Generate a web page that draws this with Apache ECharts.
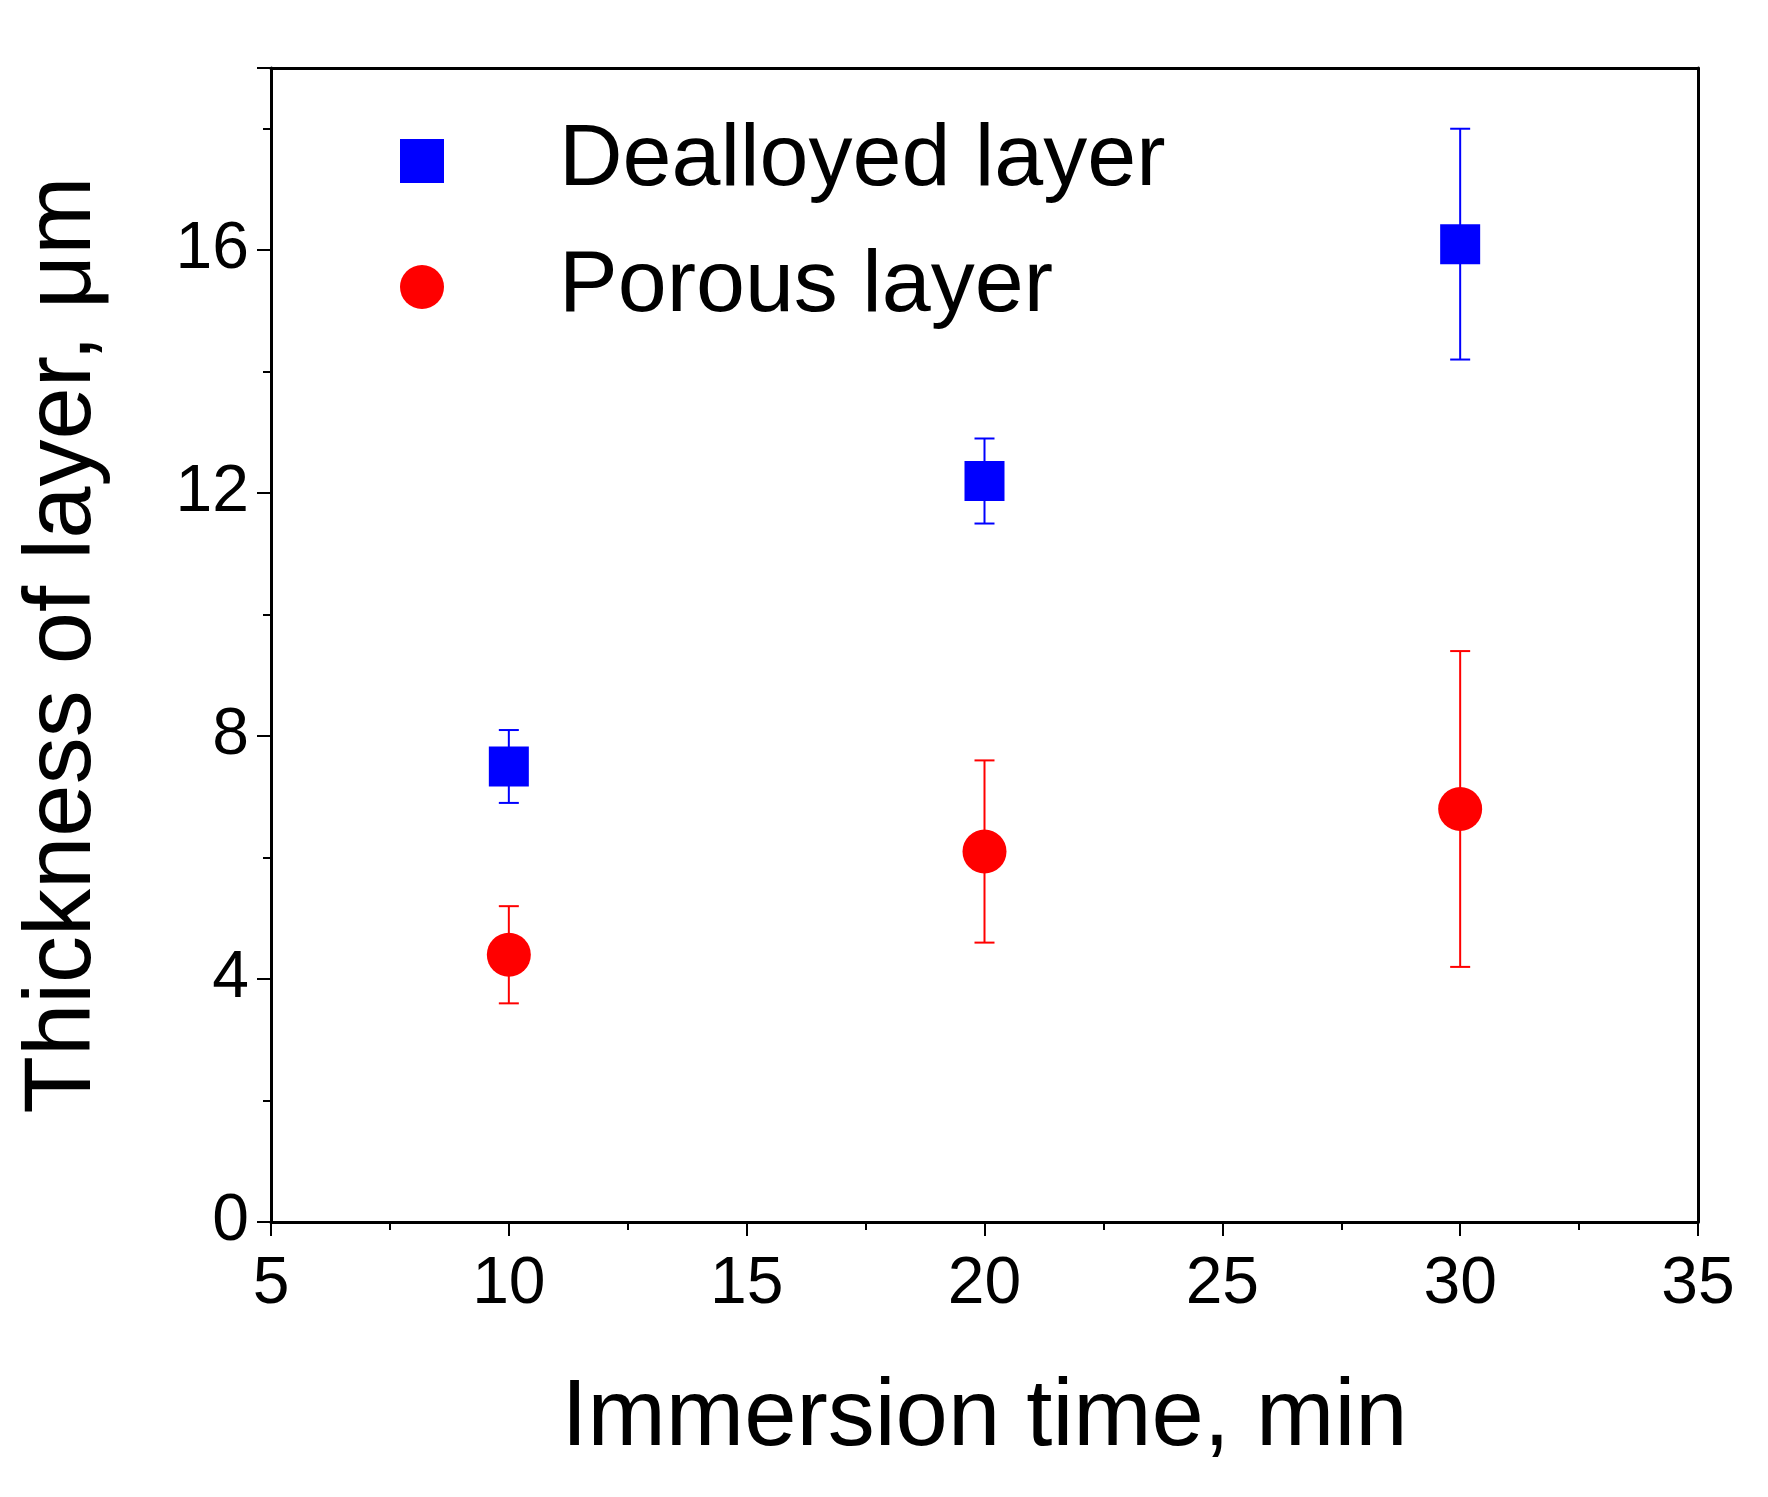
<!DOCTYPE html>
<html><head><meta charset="utf-8">
<script src="https://cdn.jsdelivr.net/npm/echarts@6/dist/echarts.min.js"></script>
<style>html,body{margin:0;background:#fff}#c{width:1768px;height:1497px}</style>
</head><body><div id="c"></div>
<script>
const times = [10, 20, 30]
const dealloyed = [7.5, 12.2, 16.1]
const dealloyedErr = [0.6, 0.7, 1.9]
const porous = [4.4, 6.1, 6.8]
const porousErr = [0.8, 1.5, 2.6]

const font = 'Arial, "Liberation Sans", sans-serif'

const errSeries = (name, vals, errs, color) => ({
  name: name + ' err',
  type: 'custom',
  data: times.map((t, i) => [t, vals[i] - errs[i], vals[i] + errs[i]]),
  renderItem: (params, api) => {
    const lo = api.coord([api.value(0), api.value(1)])
    const hi = api.coord([api.value(0), api.value(2)])
    const w = 10
    const s = { stroke: color, lineWidth: 2 }
    return {
      type: 'group',
      children: [
        { type: 'line', shape: { x1: lo[0], y1: lo[1], x2: hi[0], y2: hi[1] }, style: s },
        { type: 'line', shape: { x1: lo[0] - w, y1: lo[1], x2: lo[0] + w, y2: lo[1] }, style: s },
        { type: 'line', shape: { x1: hi[0] - w, y1: hi[1], x2: hi[0] + w, y2: hi[1] }, style: s },
      ],
    }
  },
  z: 1,
})

const chart = echarts.init(document.getElementById('c'))
const axisLine = { onZero: false, lineStyle: { color: '#000', width: 3 } }
chart.setOption({
  animation: false,
  backgroundColor: '#fff',
  grid: { left: 271, right: 70, top: 68, bottom: 275 },
  legend: {
    orient: 'vertical',
    left: 395,
    top: 112,
    itemGap: 38,
    itemWidth: 44,
    itemHeight: 44,
    data: ['Dealloyed layer', 'Porous layer'],
    textStyle: { fontFamily: font, fontSize: 88, color: '#000', padding: [0, 0, 0, 110] },
  },
  xAxis: [{
    type: 'value', min: 5, max: 35, interval: 5,
    name: 'Immersion time, min', nameLocation: 'middle', nameGap: 150,
    nameTextStyle: { fontFamily: font, fontSize: 94, color: '#000' },
    axisLine,
    axisTick: { inside: false, length: 14, lineStyle: { width: 2, color: '#000' } },
    minorTick: { show: true, splitNumber: 2, length: 8, lineStyle: { width: 2, color: '#000' } },
    axisLabel: { fontFamily: font, fontSize: 66, color: '#000', margin: 30 },
    splitLine: { show: false },
  }, {
    type: 'value', min: 5, max: 35, position: 'top',
    axisLine, axisTick: { show: false }, axisLabel: { show: false }, splitLine: { show: false },
  }],
  yAxis: [{
    type: 'value', min: 0, max: 19, interval: 4,
    name: 'Thickness of layer, μm', nameLocation: 'middle', nameGap: 160,
    nameTextStyle: { fontFamily: font, fontSize: 94, color: '#000' },
    axisLine,
    axisTick: { inside: false, length: 14, lineStyle: { width: 2, color: '#000' } },
    minorTick: { show: true, splitNumber: 2, length: 8, lineStyle: { width: 2, color: '#000' } },
    axisLabel: { fontFamily: font, fontSize: 66, color: '#000', margin: 22, showMaxLabel: false },
    splitLine: { show: false },
  }, {
    type: 'value', min: 0, max: 19, position: 'right',
    axisLine, axisTick: { show: false }, axisLabel: { show: false }, splitLine: { show: false },
  }],
  series: [
    errSeries('Dealloyed layer', dealloyed, dealloyedErr, '#0000ff'),
    errSeries('Porous layer', porous, porousErr, '#ff0000'),
    {
      name: 'Dealloyed layer', type: 'scatter', symbol: 'rect', symbolSize: 40,
      itemStyle: { color: '#0000ff', opacity: 1 }, data: times.map((t, i) => [t, dealloyed[i]]), z: 3,
    },
    {
      name: 'Porous layer', type: 'scatter', symbol: 'circle', symbolSize: 44,
      itemStyle: { color: '#ff0000', opacity: 1 }, data: times.map((t, i) => [t, porous[i]]), z: 3,
    },
  ],
})
</script></body></html>
